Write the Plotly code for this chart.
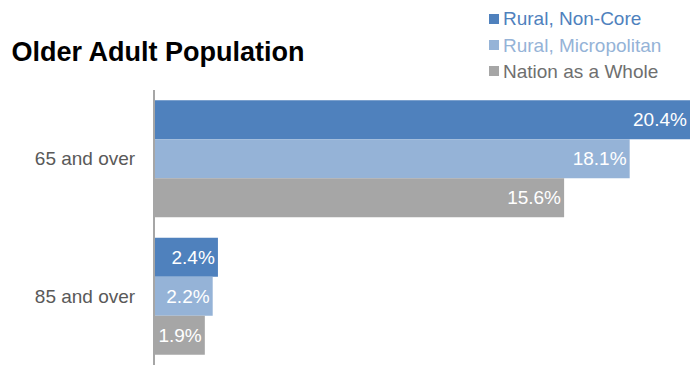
import plotly.graph_objects as go

categories = ["65 and over", "85 and over"]
series_names = ["Rural, Non-Core", "Rural, Micropolitan", "Nation as a Whole"]
non_core = [20.4, 2.4]
micropolitan = [18.1, 2.2]
nation = [15.6, 1.9]
colors = ["#4F81BD", "#95B3D7", "#A6A6A6"]
legend_text_colors = ["#4F81BD", "#95B3D7", "#6F6F6F"]

FONT = "Liberation Sans, Arial"
# page body has an 8px default margin, so the figure is sized/placed to compensate
W, H = 692, 375
ML, MR, MT, MB = 147, 10, 82, 18
PW, PH = W - ML - MR, H - MT - MB


def px_to_paper_x(px):
    return (px - ML) / PW


def px_to_paper_y(py):
    return (H - MB - py) / PH


fig = go.Figure()
for name, vals, col in zip(series_names, [non_core, micropolitan, nation], colors):
    fig.add_trace(go.Bar(
        y=categories, x=vals, orientation="h", name=name,
        marker=dict(color=col, line=dict(width=0)),
        text=[f"{v:.1f}%" for v in vals],
        textposition="inside", insidetextanchor="end", textangle=0,
        textfont=dict(color="white", size=19, family=FONT),
        cliponaxis=False, showlegend=False,
    ))

# Legend drawn as colored squares + colored labels (top right)
legend_row_y = [11, 37, 63]
for name, col, tcol, ry in zip(series_names, colors, legend_text_colors, legend_row_y):
    fig.add_shape(type="rect", xref="paper", yref="paper",
                  xsizemode="pixel", ysizemode="pixel",
                  xanchor=px_to_paper_x(486), yanchor=px_to_paper_y(ry),
                  x0=-5, x1=5, y0=-5, y1=5,
                  fillcolor=col, line=dict(width=0))
    fig.add_annotation(text=name, xref="paper", yref="paper",
                       x=px_to_paper_x(493), y=px_to_paper_y(ry),
                       xanchor="left", yanchor="middle", showarrow=False,
                       font=dict(size=19, color=tcol, family=FONT))

fig.update_layout(
    width=W, height=H,
    margin=dict(l=ML, r=MR, t=MT, b=MB, autoexpand=False),
    paper_bgcolor="white", plot_bgcolor="white",
    barmode="group", bargap=0.15, bargroupgap=0,
    font=dict(family=FONT, color="#595959"),
    title=dict(text="<b>Older Adult Population</b>", x=0.005, xanchor="left",
               xref="container", yref="container",
               y=1 - 44 / H, yanchor="middle",
               font=dict(size=27, color="black", family=FONT)),
    xaxis=dict(range=[0, 20.4], visible=False, showgrid=False, zeroline=False),
    yaxis=dict(autorange="reversed", showline=True, linecolor="#A6A6A6", linewidth=2,
               ticks="", showgrid=False, ticklabelstandoff=14,
               tickfont=dict(size=19, color="#595959")),
    showlegend=False,
    uniformtext=dict(mode=False),
)
fig.write_html("out.html")
